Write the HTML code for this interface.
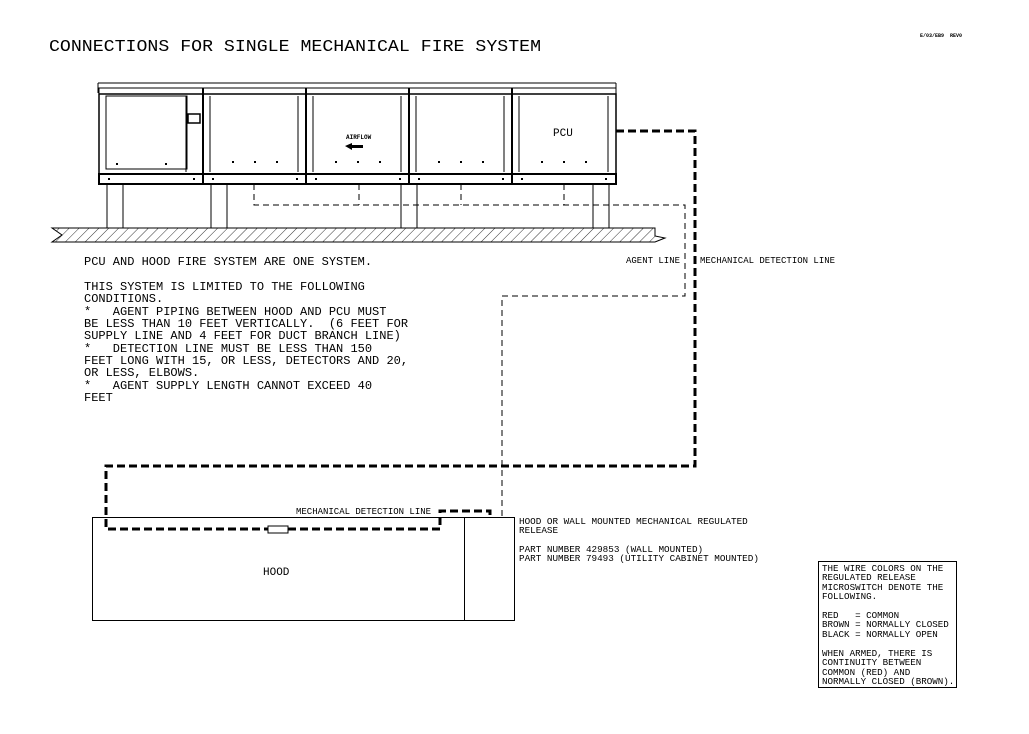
<!DOCTYPE html>
<html><head><meta charset="utf-8"><style>
html,body{margin:0;padding:0;background:#fff;}
svg{display:block;}
text{font-family:"Liberation Mono","DejaVu Sans Mono",monospace;fill:#000;white-space:pre;}
</style></head><body>
<svg width="1029" height="734" viewBox="0 0 1029 734" xmlns="http://www.w3.org/2000/svg" xml:space="preserve">
<defs>
<pattern id="h" width="7" height="7" patternUnits="userSpaceOnUse" patternTransform="rotate(45)">
<line x1="0" y1="0" x2="0" y2="7" stroke="#000" stroke-width="0.8"/>
</pattern>
</defs>
<text x="49" y="51" font-size="17" font-family="Liberation Sans" textLength="492" lengthAdjust="spacingAndGlyphs">CONNECTIONS FOR SINGLE MECHANICAL FIRE SYSTEM</text>
<text x="920" y="37" font-size="5" font-weight="bold">E/03/EB9  REV0</text>

<g fill="none" stroke="#000">
<line x1="98" y1="83" x2="616" y2="83" stroke-width="1"/>
<line x1="98" y1="83" x2="98" y2="93"/>
<line x1="616" y1="83" x2="616" y2="93"/>
<rect x="99" y="88" width="517" height="6" stroke-width="1"/>
<rect x="99" y="94" width="517" height="80" stroke-width="1.5"/>
<rect x="99" y="174" width="517" height="10" stroke-width="2"/>
<rect x="106" y="96" width="81" height="73"/>
<line x1="186" y1="96" x2="186" y2="172"/>
<rect x="188" y="114" width="12" height="9" stroke-width="1.5"/>
<line x1="203" y1="88" x2="203" y2="184" stroke-width="2"/>
<line x1="210" y1="96" x2="210" y2="172"/>
<line x1="298" y1="96" x2="298" y2="172"/>
<line x1="306" y1="88" x2="306" y2="184" stroke-width="2"/>
<line x1="313" y1="96" x2="313" y2="172"/>
<line x1="401" y1="96" x2="401" y2="172"/>
<line x1="409" y1="88" x2="409" y2="184" stroke-width="2"/>
<line x1="416" y1="96" x2="416" y2="172"/>
<line x1="504" y1="96" x2="504" y2="172"/>
<line x1="512" y1="88" x2="512" y2="184" stroke-width="2"/>
<line x1="519" y1="96" x2="519" y2="172"/>
<line x1="608" y1="96" x2="608" y2="172"/>
<rect x="107" y="184" width="16" height="44"/>
<rect x="211" y="184" width="16" height="44"/>
<rect x="401" y="184" width="16" height="44"/>
<rect x="593" y="184" width="16" height="44"/>
</g>
<g fill="#000">
<rect x="116" y="163" width="2" height="2"/><rect x="165" y="163" width="2" height="2"/>
<rect x="232" y="161" width="2" height="2"/><rect x="254" y="161" width="2" height="2"/><rect x="276" y="161" width="2" height="2"/>
<rect x="335" y="161" width="2" height="2"/><rect x="357" y="161" width="2" height="2"/><rect x="379" y="161" width="2" height="2"/>
<rect x="438" y="161" width="2" height="2"/><rect x="460" y="161" width="2" height="2"/><rect x="482" y="161" width="2" height="2"/>
<rect x="541" y="161" width="2" height="2"/><rect x="563" y="161" width="2" height="2"/><rect x="585" y="161" width="2" height="2"/>
<rect x="108" y="178" width="2" height="2"/><rect x="193" y="178" width="2" height="2"/>
<rect x="212" y="178" width="2" height="2"/><rect x="296" y="178" width="2" height="2"/>
<rect x="315" y="178" width="2" height="2"/><rect x="399" y="178" width="2" height="2"/>
<rect x="418" y="178" width="2" height="2"/><rect x="502" y="178" width="2" height="2"/>
<rect x="521" y="178" width="2" height="2"/><rect x="605" y="178" width="2" height="2"/>
<polygon points="345,146 352,143 352,145 363,145 363,148 352,148 352,150"/>
</g>
<text x="346" y="139" font-size="6" font-weight="bold">AIRFLOW</text>
<text x="553" y="136" font-size="11" font-family="Liberation Sans">PCU</text>

<polygon points="52,228 655,228 655,236 665,238 655,242 52,242 62,235" fill="url(#h)" stroke="#000"/>

<g fill="none" stroke="#000" stroke-width="1" stroke-dasharray="6,4">
<polyline points="254,184 254,205 685,205 685,296 502,296 502,517"/>
<line x1="359" y1="184" x2="359" y2="205"/>
<line x1="461" y1="184" x2="461" y2="205"/>
<line x1="564" y1="184" x2="564" y2="205"/>
</g>

<g fill="none" stroke="#000" stroke-width="3" stroke-dasharray="8,4">
<polyline points="616,131 695,131 695,466 106,466 106,529 268,529"/>
<polyline points="288,529 440,529 440,511 490,511 490,517"/>
</g>
<rect x="268" y="526" width="20" height="7" fill="#fff" stroke="#000"/>

<rect x="92.5" y="517.5" width="422" height="103" fill="none" stroke="#000"/>
<line x1="464.5" y1="517" x2="464.5" y2="620" stroke="#000"/>
<text x="263" y="575" font-size="11">HOOD</text>

<g font-size="9">
<text x="296" y="514">MECHANICAL DETECTION LINE</text>
<text x="626" y="263">AGENT LINE</text>
<text x="700" y="263">MECHANICAL DETECTION LINE</text>
</g>
<g font-size="9.3">
<text x="519" y="524">HOOD OR WALL MOUNTED MECHANICAL REGULATED</text>
<text x="519" y="533">RELEASE</text>
<text x="519" y="552">PART NUMBER 429853 (WALL MOUNTED)</text>
<text x="519" y="561">PART NUMBER 79493 (UTILITY CABINET MOUNTED)</text>
</g>
<g font-size="12">
<text x="84" y="265">PCU AND HOOD FIRE SYSTEM ARE ONE SYSTEM.</text>
<text x="84" y="290">THIS SYSTEM IS LIMITED TO THE FOLLOWING</text>
<text x="84" y="302">CONDITIONS.</text>
<text x="84" y="315">*   AGENT PIPING BETWEEN HOOD AND PCU MUST</text>
<text x="84" y="327">BE LESS THAN 10 FEET VERTICALLY.  (6 FEET FOR</text>
<text x="84" y="339">SUPPLY LINE AND 4 FEET FOR DUCT BRANCH LINE)</text>
<text x="84" y="352">*   DETECTION LINE MUST BE LESS THAN 150</text>
<text x="84" y="364">FEET LONG WITH 15, OR LESS, DETECTORS AND 20,</text>
<text x="84" y="376">OR LESS, ELBOWS.</text>
<text x="84" y="389">*   AGENT SUPPLY LENGTH CANNOT EXCEED 40</text>
<text x="84" y="401">FEET</text>
</g>

<rect x="818.5" y="561.5" width="138" height="126" fill="none" stroke="#000"/>
<g font-size="9.2">
<text x="822" y="571">THE WIRE COLORS ON THE</text>
<text x="822" y="580">REGULATED RELEASE</text>
<text x="822" y="590">MICROSWITCH DENOTE THE</text>
<text x="822" y="599">FOLLOWING.</text>
<text x="822" y="618">RED   = COMMON</text>
<text x="822" y="627">BROWN = NORMALLY CLOSED</text>
<text x="822" y="637">BLACK = NORMALLY OPEN</text>
<text x="822" y="656">WHEN ARMED, THERE IS</text>
<text x="822" y="665">CONTINUITY BETWEEN</text>
<text x="822" y="675">COMMON (RED) AND</text>
<text x="822" y="684">NORMALLY CLOSED (BROWN).</text>
</g>
</svg>
</body></html>
